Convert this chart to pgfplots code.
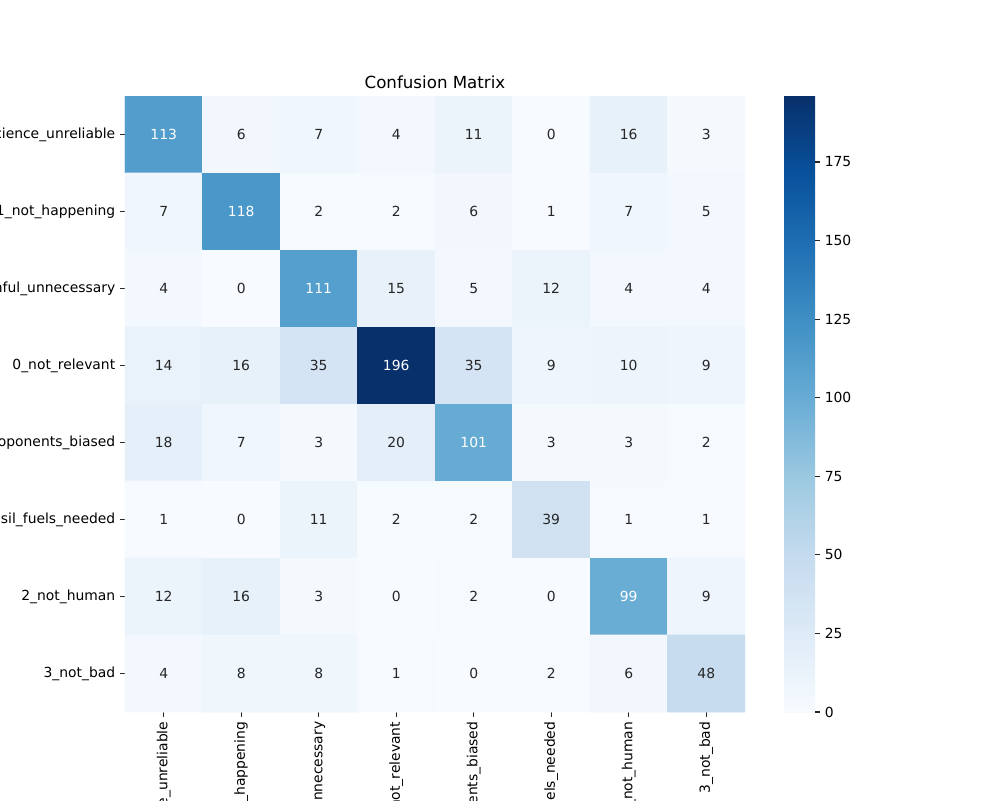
\documentclass[border=0pt]{standalone}
\usepackage{pgfplots}
\pgfplotsset{compat=1.18}
\usepackage{pgfplotstable}
\usepackage{fontspec}
\setmainfont{DejaVu Sans}
\definecolor{darktext}{RGB}{38,38,38}
\pgfplotsset{colormap={blues}{rgb255=(247,251,255) rgb255=(222,235,247) rgb255=(198,219,239) rgb255=(158,202,225) rgb255=(107,174,214) rgb255=(66,146,198) rgb255=(33,113,181) rgb255=(8,81,156) rgb255=(8,48,107)}}
\pgfplotstableread{
x y c
0 0 113
1 0 6
2 0 7
3 0 4
4 0 11
5 0 0
6 0 16
7 0 3
0 1 7
1 1 118
2 1 2
3 1 2
4 1 6
5 1 1
6 1 7
7 1 5
0 2 4
1 2 0
2 2 111
3 2 15
4 2 5
5 2 12
6 2 4
7 2 4
0 3 14
1 3 16
2 3 35
3 3 196
4 3 35
5 3 9
6 3 10
7 3 9
0 4 18
1 4 7
2 4 3
3 4 20
4 4 101
5 4 3
6 4 3
7 4 2
0 5 1
1 5 0
2 5 11
3 5 2
4 5 2
5 5 39
6 5 1
7 5 1
0 6 12
1 6 16
2 6 3
3 6 0
4 6 2
5 6 0
6 6 99
7 6 9
0 7 4
1 7 8
2 7 8
3 7 1
4 7 0
5 7 2
6 7 6
7 7 48
}\cm
\begin{document}
\begin{tikzpicture}
\useasboundingbox (0,0) rectangle (720pt,576pt);
\begin{scope}[overlay]
\clip (0,0) rectangle (720pt,576pt);
\begin{axis}[
  at={(90pt,63.36pt)}, anchor=south west,
  scale only axis, width=446.4pt, height=443.52pt,
  colormap name=blues,
  point meta min=0, point meta max=196,
  xmin=-0.5, xmax=7.5, ymin=-0.5, ymax=7.5,
  y dir=reverse,
  axis line style={draw=none},
  tick align=outside, major tick length=3.5pt,
  tick style={color=darktext, line width=0.8pt},
  xtick pos=bottom, ytick pos=left,
  xtick={0,...,7}, ytick={0,...,7},
  xticklabels={5\_science\_unreliable,1\_not\_happening,4\_solutions\_harmful\_unnecessary,0\_not\_relevant,6\_proponents\_biased,7\_fossil\_fuels\_needed,2\_not\_human,3\_not\_bad},
  yticklabels={5\_science\_unreliable,1\_not\_happening,4\_solutions\_harmful\_unnecessary,0\_not\_relevant,6\_proponents\_biased,7\_fossil\_fuels\_needed,2\_not\_human,3\_not\_bad},
  tick label style={font=\fontsize{10}{12}\selectfont, text=black},
  x tick label style={rotate=90, anchor=east},
  title={Confusion Matrix},
  title style={at={(0.5,1)}, anchor=base, yshift=-0.5pt, font=\fontsize{12}{14}\selectfont},
  colorbar,
  colorbar/width=22.32pt,
  colorbar shift/.style={xshift=28.08pt},
  colorbar style={
    at={(parent axis.north east)}, anchor=north west,
    scale only axis, width=22.32pt, height=443.52pt,
    ytick={0,25,...,175},
    axis line style={draw=none},
    tick align=outside, major tick length=3.5pt,
    tick style={draw=darktext, line width=0.8pt},
    ytick style={draw=darktext, line width=0.8pt},
    ytick pos=right,
    yticklabel pos=right,
    tick label style={font=\fontsize{10}{12}\selectfont, text=black},
    /pgf/number format/assume math mode=true,
  },
]
\addplot[matrix plot*, mesh/cols=8, point meta=explicit] table[x=x, y=y, meta=c] {\cm};
\addplot[only marks, mark=none, point meta=explicit symbolic,
  nodes near coords={\ifnum\pgfplotspointmeta>80 \textcolor{white}{\pgfplotspointmeta}\else\textcolor{darktext}{\pgfplotspointmeta}\fi},
  every node near coord/.append style={anchor=center, font=\fontsize{10}{12}\selectfont}]
  table[x=x, y=y, meta=c] {\cm};
\end{axis}
\end{scope}
\end{tikzpicture}
\end{document}
